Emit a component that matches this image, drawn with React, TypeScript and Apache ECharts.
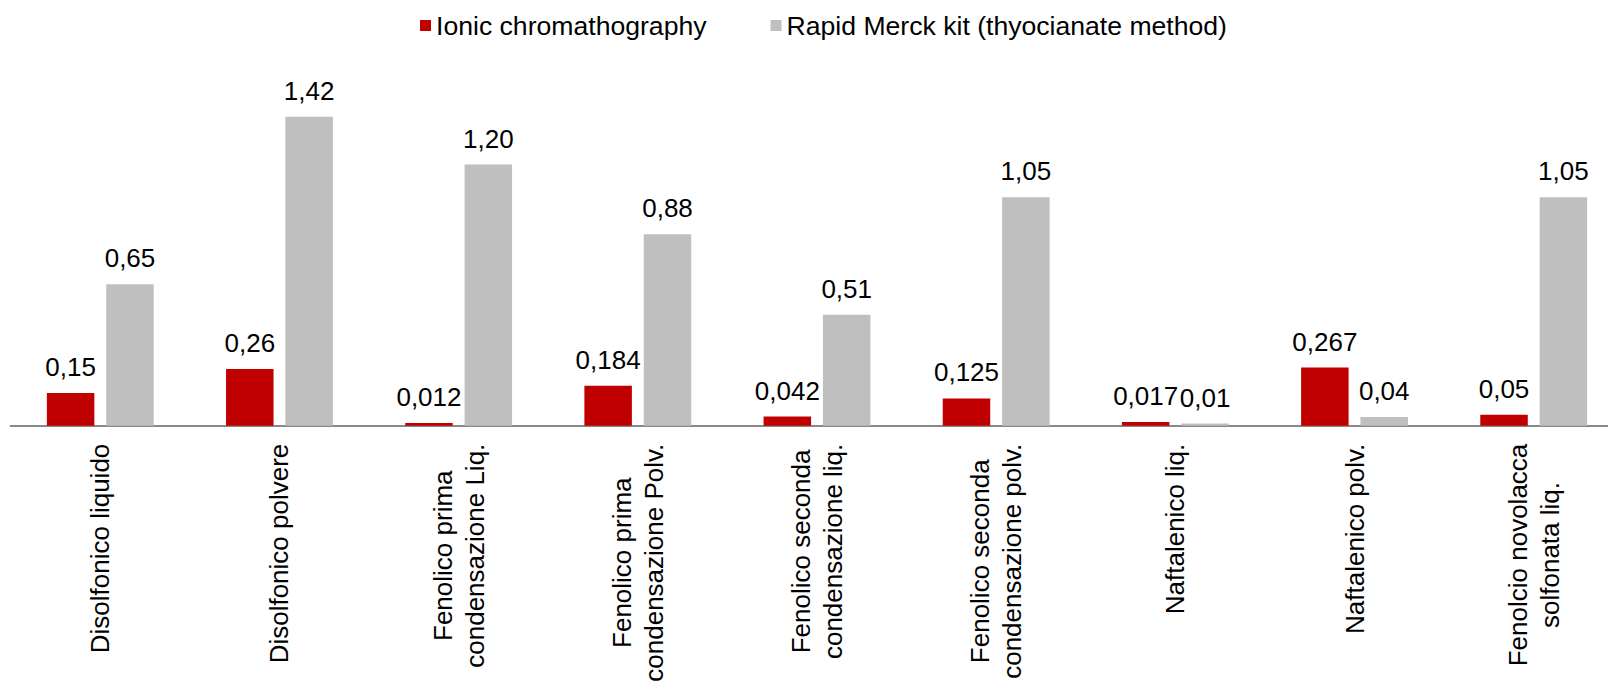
import React, { useEffect, useRef } from "react";
import * as echarts from "echarts";

const categories = [
  "Disolfonico liquido",
  "Disolfonico polvere",
  "Fenolico prima\ncondensazione Liq.",
  "Fenolico prima\ncondensazione Polv.",
  "Fenolico seconda\ncondensazione liq.",
  "Fenolico seconda\ncondensazione polv.",
  "Naftalenico liq.",
  "Naftalenico polv.",
  "Fenolcio novolacca\nsolfonata liq.",
];
const ionicValues = [0.15, 0.26, 0.012, 0.184, 0.042, 0.125, 0.017, 0.267, 0.05];
const ionicDecimals = [2, 2, 3, 3, 3, 3, 3, 3, 2];
const merckValues = [0.65, 1.42, 1.2, 0.88, 0.51, 1.05, 0.01, 0.04, 1.05];
const merckDecimals = [2, 2, 2, 2, 2, 2, 2, 2, 2];
const seriesNames = ["Ionic chromathography", "Rapid Merck kit (thyocianate method)"];

const FONT = "'Liberation Sans', Arial, sans-serif";

export default function App() {
  const ref = useRef<HTMLDivElement>(null);
  useEffect(() => {
    if (!ref.current) return;
    const chart = echarts.init(ref.current, null, { renderer: "svg" });
    const fmt = (decs: number[]) => (p: any) =>
      (p.value as number).toFixed(decs[p.dataIndex]).replace(".", ",");
    const labelStyle = {
      show: true,
      position: "top" as const,
      distance: 13,
      fontSize: 26,
      color: "#000",
      fontFamily: FONT,
    };
    chart.setOption({
      animation: false,
      textStyle: { fontFamily: FONT },
      legend: {
        top: 12,
        left: 420,
        padding: 0,
        icon: "rect",
        itemWidth: 11,
        itemHeight: 11,
        itemGap: 64,
        textStyle: { fontSize: 26.6, color: "#000", fontFamily: FONT },
        data: seriesNames,
      },
      grid: {
        left: 10.7,
        top: 77.5,
        width: 1612.6,
        height: 348.2,
        containLabel: false,
        outerBoundsMode: "none",
      },
      xAxis: {
        type: "category",
        data: categories,
        axisLine: { show: true, lineStyle: { color: "#898989", width: 2 } },
        axisTick: { show: false },
        axisLabel: {
          interval: 0,
          rotate: 90,
          margin: 18,
          fontSize: 26,
          lineHeight: 32,
          color: "#000",
          fontFamily: FONT,
          formatter: (v: string) =>
            v
              .split("\n")
              .map((l) => `{c|${l}}`)
              .join("\n"),
          rich: {
            c: { align: "center", fontSize: 26, lineHeight: 32, color: "#000", fontFamily: FONT },
          },
        },
      },
      yAxis: {
        type: "value",
        min: 0,
        max: 1.6,
        show: false,
        splitLine: { show: false },
      },
      series: [
        {
          name: seriesNames[0],
          type: "bar",
          data: ionicValues,
          barWidth: 47.5,
          barGap: "25%",
          itemStyle: { color: "#C00000" },
          label: { ...labelStyle, formatter: fmt(ionicDecimals) },
        },
        {
          name: seriesNames[1],
          type: "bar",
          data: merckValues,
          barWidth: 47.5,
          barGap: "25%",
          itemStyle: { color: "#BFBFBF" },
          label: { ...labelStyle, formatter: fmt(merckDecimals) },
        },
      ],
    });
    return () => chart.dispose();
  }, []);
  return (
    <div
      ref={ref}
      style={{ position: "absolute", left: 0, top: 0, width: 1608, height: 687, background: "#fff" }}
    />
  );
}
